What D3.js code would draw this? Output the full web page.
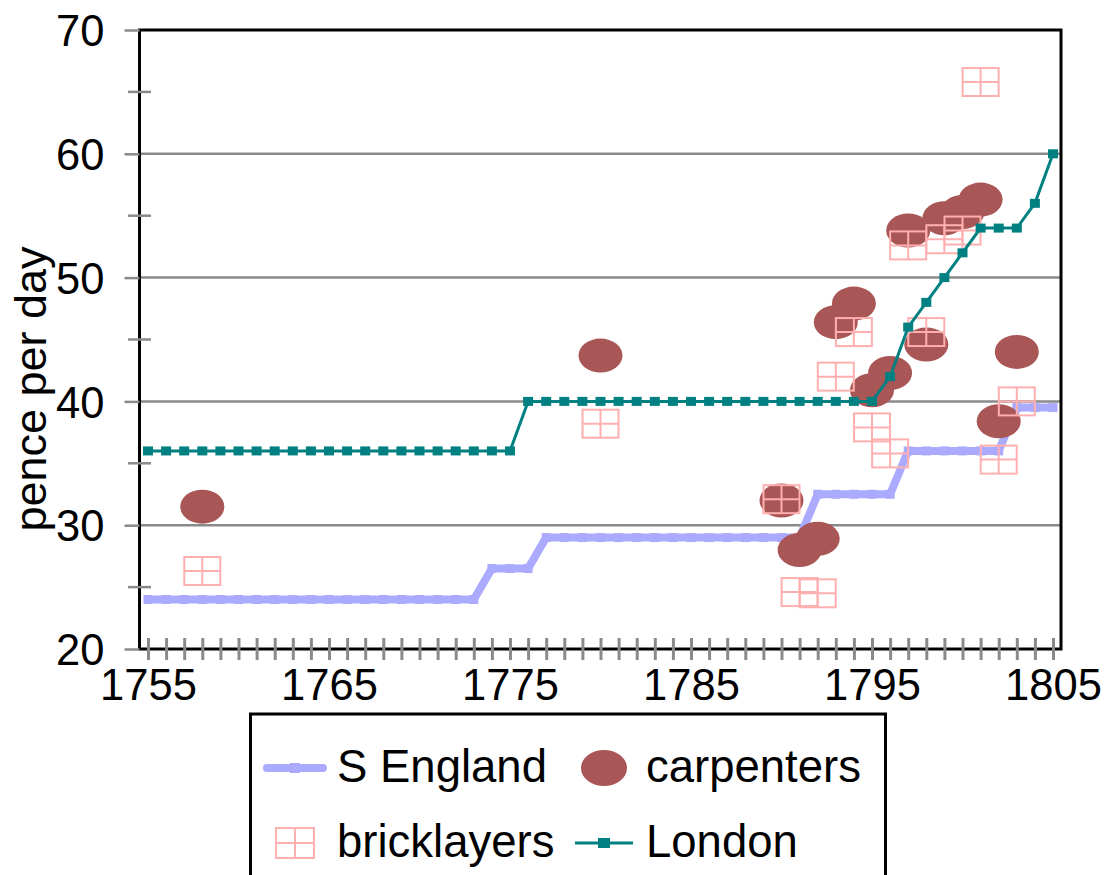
<!DOCTYPE html>
<html>
<head>
<meta charset="utf-8">
<script src="https://cdn.jsdelivr.net/npm/d3@7"></script>
<style>
  body { margin: 0; background: #fff; }
  svg { display: block; font-family: "Liberation Sans", Arial, sans-serif; }
</style>
</head>
<body>
<svg id="chart" width="1112" height="875"></svg>
<script>
// Daily wage rates (pence per day), 1755-1805
const years = d3.range(1755, 1806);

const sEngland = [
  24, 24, 24, 24, 24, 24, 24, 24, 24, 24,        // 1755-1764
  24, 24, 24, 24, 24, 24, 24, 24, 24, 26.5,      // 1765-1774
  26.5, 26.5, 29, 29, 29, 29, 29, 29, 29, 29,    // 1775-1784
  29, 29, 29, 29, 29, 29, 29, 32.5, 32.5, 32.5,  // 1785-1794
  32.5, 32.5, 36, 36, 36, 36, 36, 36, 39.5, 39.5,// 1795-1804
  39.5                                           // 1805
];

const london = [
  36, 36, 36, 36, 36, 36, 36, 36, 36, 36,   // 1755-1764
  36, 36, 36, 36, 36, 36, 36, 36, 36, 36,   // 1765-1774
  36, 40, 40, 40, 40, 40, 40, 40, 40, 40,   // 1775-1784
  40, 40, 40, 40, 40, 40, 40, 40, 40, 40,   // 1785-1794
  40, 42, 46, 48, 50, 52, 54, 54, 54, 56,   // 1795-1804
  60                                        // 1805
];

const carpenterYears  = [1758, 1780, 1790, 1791, 1792, 1793, 1794, 1795, 1796, 1797, 1798, 1799, 1800, 1801, 1802, 1803];
const carpenterValues = [31.5, 43.7, 32.0, 28.0, 28.9, 46.4, 47.9, 40.9, 42.3, 53.8, 44.6, 54.8, 55.3, 56.3, 38.4, 44.0];

const bricklayerYears  = [1758, 1780, 1790, 1791, 1792, 1793, 1794, 1795, 1796, 1797, 1798, 1799, 1800, 1801, 1802, 1803];
const bricklayerValues = [26.3, 38.2, 32.1, 24.6, 24.5, 42.0, 45.6, 37.9, 35.8, 52.6, 45.6, 53.1, 53.8, 65.8, 35.3, 40.0];

const yTicks = [20, 30, 40, 50, 60, 70];
const yMinorTicks = [25, 35, 45, 55, 65];
const xLabelYears = [1755, 1765, 1775, 1785, 1795, 1805];

const seriesNames = ["S England", "carpenters", "bricklayers", "London"];

// ---- layout ----
const plot = { left: 139.5, right: 1061, top: 30, bottom: 649 };
const x = d3.scaleLinear().domain([1755, 1805]).range([148, 1053]);
const y = d3.scaleLinear().domain([20, 70]).range([plot.bottom, plot.top]);

const C = {
  sEngland: "#aaaaff",
  carpenter: "#a95656",
  brick: "#ffafaf",
  london: "#008080",
  grid: "#8a8a8a"
};

const svg = d3.select("#chart");

// horizontal gridlines
svg.append("g").selectAll("line")
  .data(yTicks.filter(v => v > 20 && v < 70))
  .join("line")
  .attr("x1", plot.left).attr("x2", plot.right)
  .attr("y1", d => y(d)).attr("y2", d => y(d))
  .attr("stroke", C.grid).attr("stroke-width", 2.5);

// S England: thick line with small square markers
const sePts = years.map((yr, i) => [yr, sEngland[i]]);
const line = d3.line().x(d => x(d[0])).y(d => y(d[1]));
svg.append("path")
  .attr("d", line(sePts))
  .attr("fill", "none")
  .attr("stroke", C.sEngland)
  .attr("stroke-width", 8)
  .attr("stroke-linecap", "square");
svg.append("g").selectAll("rect")
  .data(sePts)
  .join("rect")
  .attr("x", d => x(d[0]) - 4.5).attr("y", d => y(d[1]) - 4.5)
  .attr("width", 9).attr("height", 9)
  .attr("fill", C.sEngland);

// carpenters: filled ellipses
svg.append("g").selectAll("ellipse")
  .data(carpenterYears.map((yr, i) => [yr, carpenterValues[i]]))
  .join("ellipse")
  .attr("cx", d => x(d[0])).attr("cy", d => y(d[1]))
  .attr("rx", 22).attr("ry", 17)
  .attr("fill", C.carpenter);

// bricklayers: open boxes with a cross
function brickMarker(g, w, h) {
  g.append("rect")
    .attr("x", -w / 2).attr("y", -h / 2).attr("width", w).attr("height", h)
    .attr("fill", "none").attr("stroke", C.brick).attr("stroke-width", 2);
  g.append("line").attr("x1", 0).attr("x2", 0).attr("y1", -h / 2).attr("y2", h / 2)
    .attr("stroke", C.brick).attr("stroke-width", 2);
  g.append("line").attr("x1", -w / 2).attr("x2", w / 2).attr("y1", 0).attr("y2", 0)
    .attr("stroke", C.brick).attr("stroke-width", 2);
}
svg.append("g").selectAll("g")
  .data(bricklayerYears.map((yr, i) => [yr, bricklayerValues[i]]))
  .join("g")
  .attr("transform", d => `translate(${x(d[0])},${y(d[1])})`)
  .each(function () { brickMarker(d3.select(this), 36, 28); });

// London: thin line with square markers
const lonPts = years.map((yr, i) => [yr, london[i]]);
svg.append("path")
  .attr("d", line(lonPts))
  .attr("fill", "none")
  .attr("stroke", C.london)
  .attr("stroke-width", 3);
svg.append("g").selectAll("rect")
  .data(lonPts)
  .join("rect")
  .attr("x", d => x(d[0]) - 5).attr("y", d => y(d[1]) - 4.5)
  .attr("width", 10).attr("height", 9)
  .attr("fill", C.london);

// plot frame
svg.append("rect")
  .attr("x", plot.left).attr("y", plot.top)
  .attr("width", plot.right - plot.left).attr("height", plot.bottom - plot.top)
  .attr("fill", "none").attr("stroke", "#000").attr("stroke-width", 3);

// y axis
const yAxis = svg.append("g")
  .attr("transform", `translate(${plot.left},0)`)
  .call(d3.axisLeft(y).tickValues(yTicks).tickSize(15).tickPadding(20).tickFormat(d3.format("d")));
yAxis.select(".domain").remove();
yAxis.selectAll(".tick line").attr("stroke", C.grid).attr("stroke-width", 2.5);
yAxis.selectAll(".tick text")
  .attr("font-size", 43.5).attr("fill", "#000").attr("dy", "0.36em")
  .attr("font-family", "Liberation Sans, Arial, sans-serif");

// minor y ticks crossing the axis
svg.append("g").selectAll("line")
  .data(yMinorTicks)
  .join("line")
  .attr("x1", 128).attr("x2", 151)
  .attr("y1", d => y(d)).attr("y2", d => y(d))
  .attr("stroke", C.grid).attr("stroke-width", 2.5);

// x axis: a tick every year, labels every ten years
const xAxis = svg.append("g")
  .attr("transform", `translate(0,${plot.bottom})`)
  .call(d3.axisBottom(x).tickValues(years).tickSize(11)
    .tickFormat(d => xLabelYears.includes(d) ? String(d) : ""));
xAxis.select(".domain").remove();
xAxis.selectAll(".tick line")
  .attr("y1", -11).attr("y2", 11)
  .attr("stroke", C.grid).attr("stroke-width", 3);
xAxis.selectAll(".tick text")
  .attr("font-size", 43.5).attr("fill", "#000")
  .attr("y", 51).attr("dy", 0)
  .attr("font-family", "Liberation Sans, Arial, sans-serif");

// y axis title
svg.append("text")
  .attr("transform", "translate(46,389) rotate(-90)")
  .attr("text-anchor", "middle")
  .attr("font-size", 45)
  .attr("fill", "#000")
  .text("pence per day");

// legend
const lg = svg.append("g");
lg.append("rect")
  .attr("x", 250.5).attr("y", 714).attr("width", 635).attr("height", 200)
  .attr("fill", "#fff").attr("stroke", "#000").attr("stroke-width", 3);

// S England key
lg.append("line").attr("x1", 267).attr("x2", 323).attr("y1", 768).attr("y2", 768)
  .attr("stroke", C.sEngland).attr("stroke-width", 8).attr("stroke-linecap", "round");
lg.append("rect").attr("x", 290).attr("y", 763).attr("width", 10).attr("height", 10).attr("fill", C.sEngland);
// carpenters key
lg.append("ellipse").attr("cx", 604).attr("cy", 768).attr("rx", 23).attr("ry", 18).attr("fill", C.carpenter);
// bricklayers key
brickMarker(lg.append("g").attr("transform", "translate(295,843)"), 38, 30);
// London key
lg.append("line").attr("x1", 575).attr("x2", 633).attr("y1", 843).attr("y2", 843)
  .attr("stroke", C.london).attr("stroke-width", 3);
lg.append("rect").attr("x", 598).attr("y", 838).attr("width", 12).attr("height", 10).attr("fill", C.london);

const legendText = [
  { name: seriesNames[0], x: 337, y: 782 },
  { name: seriesNames[1], x: 646, y: 782 },
  { name: seriesNames[2], x: 337, y: 857 },
  { name: seriesNames[3], x: 646, y: 857 }
];
lg.selectAll("text.key")
  .data(legendText)
  .join("text")
  .attr("class", "key")
  .attr("x", d => d.x).attr("y", d => d.y)
  .attr("font-size", 45.5).attr("fill", "#000")
  .text(d => d.name);
</script>
</body>
</html>
